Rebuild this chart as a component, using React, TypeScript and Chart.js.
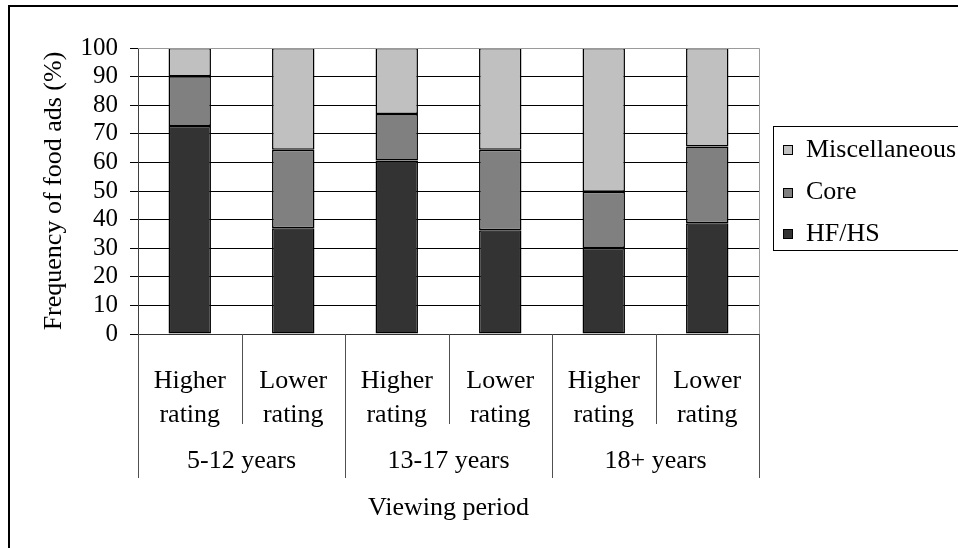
import React, { useEffect, useRef } from "react";
import { Chart, registerables } from "chart.js";

Chart.register(...registerables);

// ---- data ----
const categories: string[][] = [
  ["Higher", "rating"],
  ["Lower", "rating"],
  ["Higher", "rating"],
  ["Lower", "rating"],
  ["Higher", "rating"],
  ["Lower", "rating"],
];
const groups: string[] = ["5-12 years", "13-17 years", "18+ years"];
const hfhs: number[] = [72.7, 37.0, 60.7, 36.3, 30.1, 38.7];
const core: number[] = [17.4, 27.4, 16.2, 28.1, 19.6, 26.9];
const misc: number[] = [9.9, 35.6, 23.1, 35.6, 50.3, 34.4];
const seriesNames: string[] = ["HF/HS", "Core", "Miscellaneous"];
const yMin = 0;
const yMax = 100;
const yStep = 10;

const FONT = "'Liberation Serif', 'Times New Roman', serif";
const COLORS = ["#333333", "#808080", "#c0c0c0"];

export default function App() {
  const ref = useRef<HTMLCanvasElement>(null);

  useEffect(() => {
    document.body.style.margin = "0";
    Chart.defaults.color = "#000";
    const canvas = ref.current;
    if (!canvas) return;

    const decor = {
      id: "excelDecor",
      afterDraw(chart: any) {
        const ctx = chart.ctx as CanvasRenderingContext2D;
        const { left, right, top, bottom } = chart.chartArea;
        const xs = chart.scales.x;
        ctx.save();
        // plot area border (top & right), gray
        ctx.strokeStyle = "#9a9a9a";
        ctx.lineWidth = 1;
        ctx.beginPath();
        ctx.moveTo(left, Math.round(top) + 0.5);
        ctx.lineTo(Math.round(right) + 0.5, Math.round(top) + 0.5);
        ctx.lineTo(Math.round(right) + 0.5, bottom);
        ctx.stroke();

        // category separators
        const n = categories.length;
        const p0 = xs.getPixelForValue(0);
        const step = xs.getPixelForValue(1) - p0;
        ctx.strokeStyle = "#505050";
        for (let i = 0; i <= n; i++) {
          const px = Math.round(p0 + (i - 0.5) * step) + 0.5;
          const isGroup = i % 2 === 0;
          ctx.beginPath();
          ctx.moveTo(px, bottom);
          ctx.lineTo(px, isGroup ? 478 : 424);
          ctx.stroke();
        }

        // group labels
        ctx.fillStyle = "#000";
        ctx.font = `26px ${FONT}`;
        ctx.textAlign = "center";
        ctx.textBaseline = "middle";
        groups.forEach((g, gi) => {
          const cx = (xs.getPixelForValue(gi * 2) + xs.getPixelForValue(gi * 2 + 1)) / 2;
          ctx.fillText(g, cx, 461);
        });

        // legend
        const lx = 773.5;
        const ly = 126.5;
        ctx.strokeStyle = "#000";
        ctx.lineWidth = 1;
        ctx.strokeRect(lx, ly, 400, 124);
        const ds = chart.data.datasets.slice().reverse();
        const itemY = [150, 192.5, 234];
        ctx.textAlign = "left";
        ds.forEach((d: any, i: number) => {
          const y = itemY[i];
          ctx.fillStyle = d.backgroundColor;
          ctx.fillRect(783, Math.round(y - 5), 10, 10);
          ctx.strokeStyle = "#000";
          ctx.strokeRect(783.5, Math.round(y - 5) + 0.5, 9, 9);
          ctx.fillStyle = "#000";
          ctx.fillText(d.label, 806, y);
        });

        // outer frame
        ctx.strokeStyle = "#000";
        ctx.lineWidth = 2;
        ctx.strokeRect(9, 6, 2000, 2000);
        ctx.restore();
      },
    };

    const chart = new Chart(canvas, {
      type: "bar",
      data: {
        labels: categories,
        datasets: [hfhs, core, misc].map((vals, i) => ({
          label: seriesNames[i],
          data: vals,
          backgroundColor: COLORS[i],
          borderColor: "#000",
          borderWidth: 1.5,
          borderSkipped: false,
          barPercentage: 0.41,
          categoryPercentage: 1,
        })),
      },
      options: {
        animation: false,
        responsive: false,
        devicePixelRatio: 1,
        layout: { padding: { top: 48, right: 199, left: 0, bottom: 0 } },
        plugins: {
          legend: { display: false },
          tooltip: { enabled: false },
        },
        scales: {
          x: {
            stacked: true,
            offset: true,
            grid: { display: false },
            border: { display: true, color: "#333", width: 1 },
            ticks: {
              font: { family: FONT, size: 26, lineHeight: 1.28 },
              color: "#000",
              padding: 23,
              maxRotation: 0,
              autoSkip: false,
            },
            title: {
              display: true,
              text: "Viewing period",
              font: { family: FONT, size: 26 },
              color: "#000",
              padding: { top: 0, bottom: 24 },
            },
            afterFit: (s: any) => {
              s.height = 214;
            },
          },
          y: {
            stacked: true,
            min: yMin,
            max: yMax,
            ticks: {
              stepSize: yStep,
              autoSkip: false,
              font: { family: FONT, size: 25 },
              color: "#000",
              padding: 12,
            },
            grid: {
              color: (c: any) => (c.tick && c.tick.value === yMax ? "#9a9a9a" : "#000"),
              tickColor: "#000",
              tickLength: 8,
              lineWidth: 1,
            },
            border: { display: true, color: "#404040", width: 1 },
            title: {
              display: true,
              text: "Frequency of food ads (%)",
              font: { family: FONT, size: 26 },
              color: "#000",
              padding: { top: 39, bottom: 0 },
            },
            afterFit: (s: any) => {
              s.width = 138;
            },
          },
        },
      },
      plugins: [decor],
    });

    return () => chart.destroy();
  }, []);

  return (
    <div style={{ width: 958, height: 548, overflow: "hidden" }}>
      <canvas ref={ref} width={958} height={548} style={{ display: "block" }} />
    </div>
  );
}
